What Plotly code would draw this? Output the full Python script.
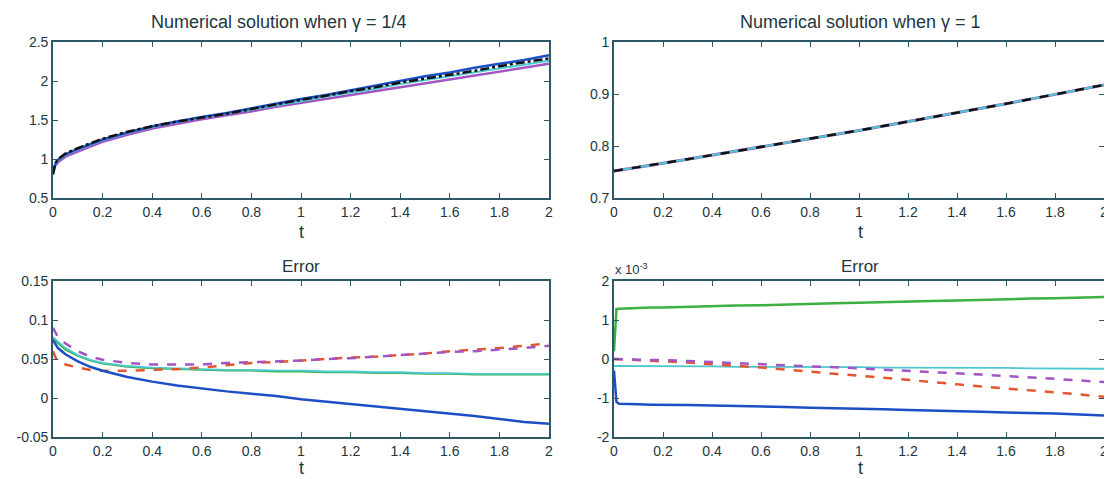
import plotly.graph_objects as go

# ---------------- data ----------------
t = [0, 0.01, 0.02, 0.05, 0.1, 0.15, 0.2, 0.3, 0.4, 0.5, 0.6, 0.7, 0.8,
     0.9, 1.0, 1.1, 1.2, 1.3, 1.4, 1.5, 1.6, 1.7, 1.8, 1.9, 2.0]

# Numerical solution, gamma = 1/4
sol14_black = [0.80, 0.95, 1.00, 1.07, 1.14, 1.20, 1.26, 1.35, 1.42, 1.48, 1.53, 1.58, 1.64,
               1.70, 1.76, 1.81, 1.87, 1.92, 1.98, 2.03, 2.08, 2.13, 2.19, 2.24, 2.29]
sol14_blue = [0.82, 0.94, 0.99, 1.06, 1.13, 1.19, 1.25, 1.34, 1.42, 1.48, 1.54, 1.59, 1.65,
              1.71, 1.77, 1.82, 1.88, 1.94, 2.00, 2.06, 2.11, 2.17, 2.22, 2.27, 2.33]
sol14_cyan = [0.85, 0.93, 0.98, 1.05, 1.12, 1.18, 1.24, 1.33, 1.41, 1.47, 1.53, 1.58, 1.63,
              1.69, 1.74, 1.80, 1.85, 1.90, 1.96, 2.01, 2.06, 2.11, 2.16, 2.21, 2.26]
sol14_magenta = [0.88, 0.92, 0.96, 1.03, 1.10, 1.16, 1.22, 1.31, 1.39, 1.45, 1.51, 1.56, 1.61,
                 1.67, 1.72, 1.77, 1.82, 1.87, 1.92, 1.97, 2.02, 2.07, 2.12, 2.17, 2.22]

# Numerical solution, gamma = 1
sol1 = [0.752, 0.7528, 0.7535, 0.7558, 0.7595, 0.7633, 0.767, 0.7746, 0.7823, 0.790, 0.7978,
        0.8057, 0.8137, 0.8218, 0.830, 0.8383, 0.8467, 0.8552, 0.8638, 0.8725, 0.8813,
        0.8902, 0.8992, 0.9083, 0.9175]

# Error, gamma = 1/4
err14_blue = [0.074, 0.068, 0.064, 0.056, 0.047, 0.040, 0.035, 0.027, 0.021, 0.016, 0.012,
              0.0085, 0.0055, 0.0025, -0.0015, -0.0045, -0.0075, -0.0105, -0.0135, -0.0165,
              -0.0197, -0.0231, -0.0268, -0.0308, -0.0330]
err14_cyan = [0.078, 0.075, 0.072, 0.064, 0.055, 0.049, 0.045, 0.041, 0.039, 0.038, 0.037,
              0.036, 0.036, 0.035, 0.035, 0.034, 0.034, 0.033, 0.033, 0.032, 0.032, 0.031,
              0.031, 0.031, 0.031]
err14_green = [0.076, 0.073, 0.070, 0.062, 0.054, 0.048, 0.044, 0.040, 0.038, 0.037, 0.036,
               0.035, 0.035, 0.034, 0.034, 0.033, 0.033, 0.032, 0.032, 0.031, 0.031, 0.030,
               0.030, 0.030, 0.030]
err14_red = [0.060, 0.052, 0.048, 0.043, 0.039, 0.036, 0.035, 0.035, 0.036, 0.037, 0.039,
             0.042, 0.045, 0.046, 0.048, 0.050, 0.052, 0.053, 0.055, 0.057, 0.060, 0.062,
             0.064, 0.067, 0.070]
err14_magenta = [0.090, 0.083, 0.078, 0.070, 0.060, 0.053, 0.049, 0.045, 0.043, 0.043, 0.043,
                 0.045, 0.046, 0.047, 0.048, 0.050, 0.051, 0.053, 0.055, 0.057, 0.059, 0.060,
                 0.062, 0.064, 0.067]

# Error, gamma = 1 (units of 1e-3)
err1_green = [0.2, 1.28, 1.29, 1.30, 1.31, 1.32, 1.32, 1.34, 1.35, 1.37, 1.38, 1.40, 1.41,
              1.43, 1.44, 1.46, 1.47, 1.49, 1.50, 1.52, 1.53, 1.55, 1.56, 1.58, 1.59]
err1_blue = [-0.3, -1.10, -1.15, -1.16, -1.16, -1.17, -1.17, -1.18, -1.19, -1.20, -1.22,
             -1.23, -1.25, -1.26, -1.28, -1.29, -1.31, -1.32, -1.34, -1.35, -1.37, -1.38,
             -1.40, -1.42, -1.45]
err1_cyan = [-0.18, -0.18, -0.18, -0.18, -0.18, -0.18, -0.19, -0.19, -0.19, -0.20, -0.20,
             -0.20, -0.21, -0.21, -0.21, -0.22, -0.22, -0.22, -0.23, -0.23, -0.23, -0.24,
             -0.24, -0.24, -0.25]
err1_red = [0.0, 0.0, 0.0, -0.01, -0.03, -0.04, -0.06, -0.09, -0.13, -0.17, -0.22, -0.27,
            -0.33, -0.38, -0.43, -0.48, -0.53, -0.59, -0.65, -0.70, -0.75, -0.80, -0.86,
            -0.91, -0.97]
err1_magenta = [0.0, 0.0, 0.0, -0.01, -0.02, -0.02, -0.03, -0.05, -0.08, -0.11, -0.14, -0.16,
                -0.19, -0.21, -0.24, -0.27, -0.30, -0.33, -0.37, -0.40, -0.44, -0.47, -0.51,
                -0.55, -0.59]
err1_scale = 1e-3

x_ticks = [0, 0.2, 0.4, 0.6, 0.8, 1, 1.2, 1.4, 1.6, 1.8, 2]
x_labels = ["0", "0.2", "0.4", "0.6", "0.8", "1", "1.2", "1.4", "1.6", "1.8", "2"]
y14_ticks = [0.5, 1, 1.5, 2, 2.5]
y1_ticks = [0.7, 0.8, 0.9, 1]
e14_ticks = [-0.05, 0, 0.05, 0.1, 0.15]
e14_labels = ["-0.05", "0", "0.05", "0.1", "0.15"]
e1_ticks = [-2, -1, 0, 1, 2]
e1_labels = ["-2", "-1", "0", "1", "2"]

# ---------------- style ----------------
BLUE = "#1d4fc4"
CYAN = "#4cc9d0"
GREEN = "#3cb043"
RED = "#e4572e"
MAGENTA = "#a455c4"
BLACK = "#111111"
AXC = "#2e5866"
TXT = "#22363e"
FONT = "Liberation Sans, Arial, sans-serif"

fig = go.Figure()


def add(x, y, color, dash="solid", width=2.0, xa="x", ya="y"):
    fig.add_trace(go.Scatter(x=x, y=y, mode="lines", xaxis=xa, yaxis=ya,
                             line=dict(color=color, dash=dash, width=width),
                             showlegend=False, hoverinfo="skip"))


# panel 1 (top-left)
add(t, sol14_magenta, MAGENTA, "solid", 2.5, "x", "y")
add(t, sol14_cyan, CYAN, "solid", 2.0, "x", "y")
add(t, sol14_blue, BLUE, "solid", 2.5, "x", "y")
add(t, sol14_black, BLACK, "dashdot", 2.5, "x", "y")

# panel 2 (top-right)
add(t, sol1, MAGENTA, "solid", 3.0, "x2", "y2")
add(t, sol1, CYAN, "solid", 2.0, "x2", "y2")
add(t, sol1, BLACK, "dash", 2.5, "x2", "y2")

# panel 3 (bottom-left)
add(t, err14_green, GREEN, "solid", 1.8, "x3", "y3")
add(t, err14_cyan, CYAN, "solid", 1.8, "x3", "y3")
add(t, err14_red, RED, "dash", 2.5, "x3", "y3")
add(t, err14_magenta, MAGENTA, "dash", 2.5, "x3", "y3")
add(t, err14_blue, BLUE, "solid", 2.5, "x3", "y3")

# panel 4 (bottom-right)
sc = lambda arr: [v * err1_scale for v in arr]
add(t, sc(err1_cyan), CYAN, "solid", 1.8, "x4", "y4")
add(t, sc(err1_red), RED, "dash", 2.5, "x4", "y4")
add(t, sc(err1_magenta), MAGENTA, "dash", 2.5, "x4", "y4")
add(t, sc(err1_green), GREEN, "solid", 2.5, "x4", "y4")
add(t, sc(err1_blue), BLUE, "solid", 2.5, "x4", "y4")

# page has an 8px body margin; work in page pixels and convert
OFF = 8
W, H = 1112 - OFF, 479 - OFF


def px(x):
    return (x - OFF) / W


def py(y):
    return 1 - (y - OFF) / H


xl = [px(53), px(549)]
xr = [px(614), px(1104)]
yt = [py(198), py(42)]
yb = [py(437), py(281)]

axis_common = dict(showline=True, linecolor=AXC, linewidth=1.6, mirror="ticks",
                   ticks="inside", ticklen=5, tickwidth=1.3, tickcolor=AXC,
                   showgrid=False, zeroline=False, automargin=False,
                   ticklabeloverflow="allow",
                   tickfont=dict(family=FONT, size=14, color=TXT))

xa = dict(axis_common, range=[0, 2], tickvals=x_ticks, ticktext=x_labels)

fig.update_layout(
    width=W, height=H,
    margin=dict(l=0, r=0, t=0, b=0, pad=0),
    paper_bgcolor="white", plot_bgcolor="white",
    showlegend=False,
    xaxis=dict(xa, domain=xl, anchor="y"),
    yaxis=dict(axis_common, domain=yt, anchor="x", range=[0.5, 2.5], tickvals=y14_ticks),
    xaxis2=dict(xa, domain=xr, anchor="y2"),
    yaxis2=dict(axis_common, domain=yt, anchor="x2", range=[0.7, 1.0], tickvals=y1_ticks),
    xaxis3=dict(xa, domain=xl, anchor="y3"),
    yaxis3=dict(axis_common, domain=yb, anchor="x3", range=[-0.05, 0.15],
                tickvals=e14_ticks, ticktext=e14_labels),
    xaxis4=dict(xa, domain=xr, anchor="y4"),
    yaxis4=dict(axis_common, domain=yb, anchor="x4", range=[-2e-3, 2e-3],
                tickvals=[v * err1_scale for v in e1_ticks], ticktext=e1_labels),
)


def ann(text, x, y, size=18, xanchor="center"):
    fig.add_annotation(text=text, x=px(x), y=py(y), xref="paper", yref="paper",
                       showarrow=False, xanchor=xanchor, yanchor="middle",
                       font=dict(family=FONT, size=size, color=TXT))


ann("Numerical solution when γ = 1/4", 279, 22)
ann("Numerical solution when γ = 1", 860, 22)
ann("Error", 301, 266, 17)
ann("Error", 860, 266, 17)
ann("t", 301, 232, 18)
ann("t", 860, 232, 18)
ann("t", 301, 468, 18)
ann("t", 860, 468, 18)
ann("x 10<sup>-3</sup>", 613, 269, 13, "left")

fig.write_html("out.html")
